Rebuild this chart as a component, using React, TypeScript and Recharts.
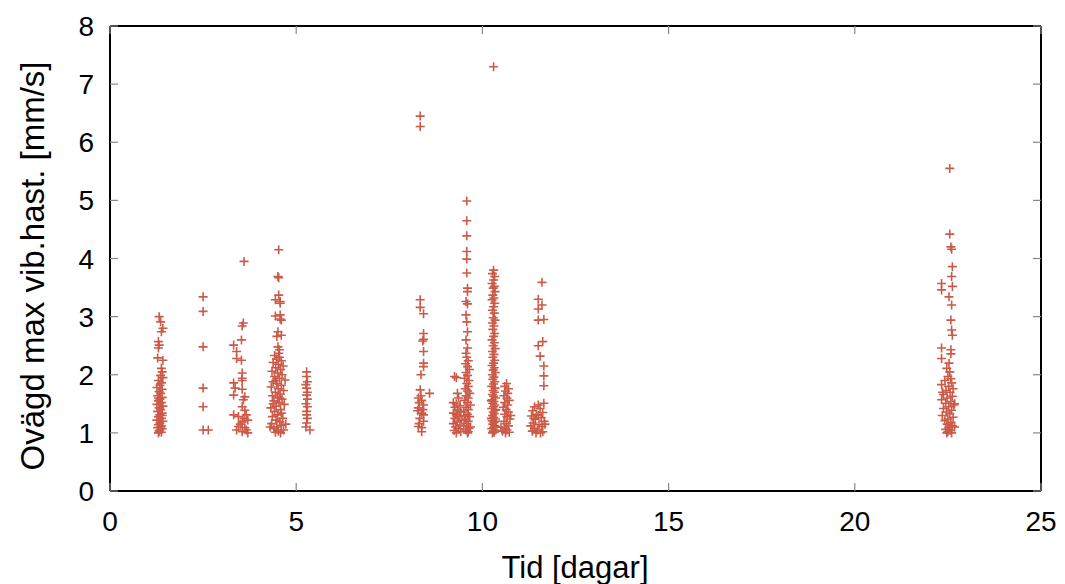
import { Label, Scatter, ScatterChart, XAxis, YAxis } from "recharts"

// [tid, hastighet] per cluster of measurements
const clusterA: [number, number][] = [
  [1.32, 3.0], [1.36, 2.91], [1.42, 2.8], [1.38, 2.74], [1.3, 2.57], [1.32, 2.51], [1.3, 2.46],
  [1.28, 2.29], [1.42, 2.25], [1.38, 2.11], [1.4, 2.05], [1.36, 1.99], [1.42, 1.95], [1.3, 1.9],
  [1.38, 1.86], [1.34, 1.82], [1.26, 1.78], [1.4, 1.75], [1.32, 1.71], [1.36, 1.68], [1.28, 1.64],
  [1.4, 1.61], [1.34, 1.58], [1.3, 1.55], [1.38, 1.52], [1.26, 1.49], [1.42, 1.46], [1.32, 1.43],
  [1.36, 1.4], [1.28, 1.37], [1.4, 1.34], [1.34, 1.31], [1.3, 1.28], [1.38, 1.25], [1.26, 1.22],
  [1.42, 1.2], [1.34, 1.17], [1.3, 1.14], [1.38, 1.12], [1.28, 1.09], [1.4, 1.07], [1.34, 1.05],
  [1.32, 1.03], [1.38, 1.01], [1.3, 1.0], [1.36, 1.1], [1.3, 1.6], [1.4, 1.3],
]

const clusterB: [number, number][] = [
  [2.5, 3.34], [2.5, 3.09], [2.5, 2.48], [2.5, 1.77], [2.5, 1.45], [2.5, 1.05], [2.64, 1.05],
]

const clusterC: [number, number][] = [
  [3.6, 3.95], [3.58, 2.89], [3.55, 2.84], [3.53, 2.6], [3.32, 2.51], [3.4, 2.4], [3.4, 2.28],
  [3.53, 2.25], [3.55, 2.03], [3.55, 1.94], [3.32, 1.86], [3.55, 1.9], [3.36, 1.77], [3.55, 1.75],
  [3.32, 1.65], [3.62, 1.62], [3.58, 1.57], [3.55, 1.45], [3.62, 1.39], [3.32, 1.31], [3.45, 1.28],
  [3.66, 1.31], [3.7, 1.22], [3.55, 1.19], [3.45, 1.11], [3.62, 1.09], [3.55, 1.02], [3.7, 1.0],
  [3.66, 1.05], [3.5, 1.15], [3.6, 1.25], [3.4, 1.05],
]

const clusterD: [number, number][] = [
  [4.53, 4.15], [4.51, 3.69], [4.53, 3.67], [4.53, 3.37], [4.44, 3.29], [4.57, 3.26], [4.44, 3.01],
  [4.57, 2.96], [4.51, 2.74], [4.48, 2.66], [4.51, 2.48], [4.57, 3.23], [4.57, 3.03], [4.6, 2.94],
  [4.6, 2.68], [4.55, 2.43], [4.53, 2.37],
  [4.42, 2.33], [4.55, 2.3], [4.47, 2.27], [4.6, 2.24], [4.38, 2.21], [4.52, 2.18], [4.65, 2.15],
  [4.45, 2.12], [4.58, 2.09], [4.35, 2.06], [4.5, 2.03], [4.62, 2.0], [4.42, 1.97], [4.55, 1.94],
  [4.7, 1.91], [4.38, 1.88], [4.48, 1.85], [4.6, 1.82], [4.33, 1.79], [4.52, 1.76], [4.66, 1.73],
  [4.44, 1.7], [4.57, 1.67], [4.36, 1.64], [4.5, 1.61], [4.62, 1.58], [4.4, 1.55], [4.54, 1.52],
  [4.68, 1.49], [4.46, 1.46], [4.32, 1.43], [4.58, 1.4], [4.42, 1.37], [4.6, 1.34], [4.5, 1.31],
  [4.36, 1.28], [4.64, 1.25], [4.46, 1.22], [4.56, 1.19], [4.34, 1.16], [4.6, 1.13], [4.48, 1.1],
  [4.4, 1.07], [4.66, 1.05], [4.52, 1.03], [4.44, 1.01], [4.58, 1.0], [4.3, 1.1], [4.72, 1.15],
  [4.38, 1.5], [4.55, 1.6], [4.45, 1.9],
]

const clusterE: [number, number][] = [
  [5.28, 2.05], [5.28, 1.97], [5.3, 1.88], [5.26, 1.83], [5.28, 1.77], [5.3, 1.7], [5.28, 1.65],
  [5.26, 1.5], [5.3, 1.45], [5.28, 1.37], [5.28, 1.31], [5.3, 1.25], [5.28, 1.17], [5.37, 1.05],
  [5.3, 1.58], [5.26, 1.1],
]

const clusterF: [number, number][] = [
  [8.33, 6.45], [8.33, 6.27], [8.33, 3.29], [8.33, 3.16], [8.42, 3.05], [8.42, 2.71], [8.42, 2.61],
  [8.4, 2.58], [8.42, 2.4], [8.42, 2.2], [8.42, 2.14], [8.35, 2.0], [8.58, 1.68], [8.33, 1.74],
  [8.28, 1.6], [8.37, 1.56], [8.42, 1.48], [8.28, 1.43], [8.37, 1.34], [8.42, 1.31], [8.28, 1.11],
  [8.37, 1.09], [8.37, 1.02], [8.3, 1.52], [8.4, 1.4], [8.32, 1.25], [8.42, 1.2], [8.3, 1.16],
  [8.26, 1.38], [8.35, 1.64],
]

const clusterG: [number, number][] = [
  [9.58, 4.99], [9.58, 4.65], [9.58, 4.39], [9.58, 4.12], [9.58, 3.99], [9.58, 3.75], [9.6, 3.49],
  [9.6, 3.43], [9.56, 3.26], [9.6, 3.22], [9.56, 3.03], [9.58, 2.91], [9.6, 2.74], [9.56, 2.6],
  [9.6, 2.46], [9.56, 2.37],
  [9.58, 2.3], [9.62, 2.24], [9.55, 2.19], [9.6, 2.14], [9.65, 2.09], [9.56, 2.04], [9.6, 1.99],
  [9.52, 1.94], [9.64, 1.9], [9.58, 1.85], [9.62, 1.8], [9.54, 1.76], [9.6, 1.72], [9.66, 1.68],
  [9.56, 1.64], [9.62, 1.6], [9.52, 1.56], [9.6, 1.52], [9.68, 1.48], [9.56, 1.44], [9.62, 1.4],
  [9.5, 1.36], [9.6, 1.32], [9.66, 1.28], [9.54, 1.24], [9.62, 1.2], [9.58, 1.16], [9.5, 1.12],
  [9.64, 1.08], [9.56, 1.05], [9.62, 1.02], [9.6, 1.0], [9.68, 1.1], [9.52, 1.3],
  [9.25, 1.97], [9.3, 1.95], [9.33, 1.68], [9.36, 1.6], [9.22, 1.52], [9.3, 1.5], [9.4, 1.47],
  [9.26, 1.44], [9.34, 1.4], [9.42, 1.37], [9.22, 1.34], [9.3, 1.31], [9.38, 1.28], [9.26, 1.25],
  [9.44, 1.22], [9.32, 1.19], [9.22, 1.16], [9.4, 1.13], [9.28, 1.1], [9.36, 1.07], [9.24, 1.04],
  [9.42, 1.02], [9.3, 1.0],
]

const clusterH: [number, number][] = [
  [10.3, 7.3],
  [10.3, 3.8], [10.27, 3.74], [10.33, 3.69], [10.3, 3.63], [10.26, 3.57], [10.32, 3.52], [10.29, 3.49],
  [10.34, 3.43], [10.28, 3.37], [10.31, 3.32], [10.26, 3.29], [10.33, 3.23], [10.3, 3.17], [10.27, 3.11],
  [10.32, 3.06], [10.29, 2.98], [10.34, 2.94], [10.27, 2.89], [10.31, 2.84], [10.28, 2.78], [10.33, 2.71],
  [10.3, 2.66], [10.26, 2.6], [10.32, 2.55], [10.29, 2.5], [10.34, 2.45], [10.27, 2.4], [10.31, 2.35],
  [10.28, 2.3], [10.33, 2.25], [10.3, 2.2], [10.26, 2.16], [10.32, 2.12], [10.29, 2.08], [10.35, 2.04],
  [10.27, 2.0], [10.31, 1.96], [10.28, 1.92], [10.33, 1.88], [10.3, 1.84], [10.25, 1.8], [10.34, 1.77],
  [10.29, 1.73], [10.32, 1.7], [10.27, 1.66], [10.3, 1.63], [10.35, 1.6], [10.26, 1.57], [10.31, 1.54],
  [10.28, 1.51], [10.33, 1.48], [10.3, 1.45], [10.25, 1.42], [10.34, 1.39], [10.29, 1.36], [10.32, 1.33],
  [10.27, 1.3], [10.3, 1.27], [10.35, 1.24], [10.26, 1.21], [10.31, 1.18], [10.28, 1.15], [10.33, 1.12],
  [10.3, 1.09], [10.25, 1.07], [10.34, 1.05], [10.29, 1.03], [10.32, 1.01], [10.27, 1.0], [10.36, 1.1],
  [10.24, 1.25], [10.36, 1.4], [10.24, 1.55], [10.36, 1.2],
]

const clusterI: [number, number][] = [
  [10.65, 1.85], [10.6, 1.8], [10.7, 1.76], [10.62, 1.72], [10.68, 1.68], [10.58, 1.64], [10.66, 1.6],
  [10.72, 1.56], [10.6, 1.52], [10.68, 1.48], [10.56, 1.44], [10.64, 1.4], [10.7, 1.36], [10.6, 1.32],
  [10.66, 1.28], [10.74, 1.24], [10.58, 1.2], [10.64, 1.16], [10.7, 1.12], [10.6, 1.08], [10.66, 1.05],
  [10.54, 1.03], [10.72, 1.01], [10.62, 1.0], [10.5, 1.1], [10.76, 1.3],
]

const clusterJ: [number, number][] = [
  [11.6, 3.59], [11.5, 3.3], [11.6, 3.2], [11.5, 3.13], [11.5, 2.94], [11.65, 2.95], [11.62, 2.57],
  [11.5, 2.5], [11.55, 2.32], [11.65, 2.15], [11.65, 1.98], [11.65, 1.81], [11.65, 1.51], [11.5, 1.48],
  [11.4, 1.45], [11.55, 1.42], [11.35, 1.38], [11.62, 1.35], [11.45, 1.32], [11.32, 1.29], [11.58, 1.26],
  [11.42, 1.23], [11.66, 1.2], [11.36, 1.17], [11.52, 1.14], [11.6, 1.11], [11.4, 1.08], [11.48, 1.05],
  [11.34, 1.03], [11.62, 1.02], [11.44, 1.0], [11.56, 1.0], [11.3, 1.12], [11.68, 1.15], [11.5, 1.3],
  [11.38, 1.25],
]

const clusterK: [number, number][] = [
  [22.55, 5.55], [22.55, 4.42], [22.58, 4.2], [22.6, 4.16], [22.62, 3.86], [22.6, 3.69], [22.33, 3.57],
  [22.33, 3.46], [22.62, 3.52], [22.53, 3.34], [22.6, 3.2], [22.58, 2.94], [22.6, 2.77], [22.62, 2.68],
  [22.33, 2.46], [22.58, 2.43], [22.58, 2.36], [22.33, 2.28], [22.53, 2.2], [22.47, 2.11], [22.55, 2.05],
  [22.5, 1.97], [22.58, 1.93], [22.42, 1.9], [22.6, 1.86], [22.33, 1.83], [22.52, 1.8], [22.64, 1.76],
  [22.45, 1.73], [22.56, 1.7], [22.38, 1.66], [22.62, 1.63], [22.48, 1.6], [22.33, 1.57], [22.58, 1.54],
  [22.44, 1.51], [22.66, 1.48], [22.52, 1.45], [22.38, 1.42], [22.6, 1.39], [22.46, 1.36], [22.55, 1.33],
  [22.35, 1.3], [22.64, 1.27], [22.5, 1.24], [22.42, 1.21], [22.58, 1.18], [22.48, 1.15], [22.62, 1.12],
  [22.52, 1.09], [22.44, 1.06], [22.56, 1.04], [22.5, 1.02], [22.6, 1.0], [22.47, 1.0], [22.68, 1.1],
  [22.36, 1.7], [22.68, 1.5],
]

const xTicks = [0, 5, 10, 15, 20, 25]
const yTicks = [0, 1, 2, 3, 4, 5, 6, 7, 8]

const COLOR = "#cc5a48"
const FONT = "'Liberation Sans', Arial, sans-serif"
const TICK_FONT = 28
const LABEL_FONT = 31
const YLABEL_FONT = 33
const TICK_LEN = 8

const data = [
  ...clusterA, ...clusterB, ...clusterC, ...clusterD, ...clusterE, ...clusterF,
  ...clusterG, ...clusterH, ...clusterI, ...clusterJ, ...clusterK,
].map(([x, y]) => ({ x, y }))

function Plus(props: any) {
  const { cx, cy } = props
  if (cx == null || cy == null) return null
  return (
    <path
      d={`M${cx - 4.5},${cy}h9M${cx},${cy - 4.5}v9`}
      stroke={COLOR}
      strokeWidth={1.6}
      fill="none"
    />
  )
}

// gnuplot style: tick marks point into the plot, labels sit outside
function makeTick(side: "bottom" | "left" | "top" | "right") {
  return (props: any) => {
    const { x, y, payload } = props
    const tick = { stroke: "#888", strokeWidth: 1.2 }
    if (side === "bottom")
      return (
        <g>
          <line x1={x} y1={y} x2={x} y2={y - TICK_LEN} {...tick} />
          <text x={x} y={y + 40} textAnchor="middle" fontSize={TICK_FONT} fontFamily={FONT} fill="#000">
            {payload.value}
          </text>
        </g>
      )
    if (side === "left")
      return (
        <g>
          <line x1={x} y1={y} x2={x + TICK_LEN} y2={y} {...tick} />
          <text x={x - 16} y={y + 10} textAnchor="end" fontSize={TICK_FONT} fontFamily={FONT} fill="#000">
            {payload.value}
          </text>
        </g>
      )
    if (side === "top") return <line x1={x} y1={y} x2={x} y2={y + TICK_LEN} {...tick} />
    return <line x1={x} y1={y} x2={x - TICK_LEN} y2={y} {...tick} />
  }
}

const frame = { stroke: "#000", strokeWidth: 2 }
const noHit = () => null

export default function App() {
  return (
    <div style={{ position: "absolute", left: 0, top: 0, background: "#fff" }}>
      <ScatterChart
        width={1065}
        height={584}
        margin={{ top: 25, right: 23, bottom: 33, left: 50 }}
      >
        <XAxis
          xAxisId="b"
          type="number"
          dataKey="x"
          domain={[0, 25]}
          ticks={xTicks}
          allowDataOverflow
          height={60}
          axisLine={frame}
          tickLine={false}
          tickSize={0}
          tickMargin={0}
          tick={makeTick("bottom")}
        >
          <Label
            content={() => (
              <text x={575} y={578} textAnchor="middle" fontSize={LABEL_FONT} fontFamily={FONT} fill="#000">
                Tid [dagar]
              </text>
            )}
          />
        </XAxis>
        <XAxis
          xAxisId="t"
          orientation="top"
          type="number"
          dataKey="x"
          domain={[0, 25]}
          ticks={xTicks}
          allowDataOverflow
          height={1}
          axisLine={frame}
          tickLine={false}
          tickSize={0}
          tickMargin={0}
          tick={makeTick("top")}
        />
        <YAxis
          yAxisId="l"
          type="number"
          dataKey="y"
          domain={[0, 8]}
          ticks={yTicks}
          allowDataOverflow
          width={60}
          axisLine={frame}
          tickLine={false}
          tickSize={0}
          tickMargin={0}
          tick={makeTick("left")}
        >
          <Label
            content={() => (
              <text
                x={44}
                y={266}
                transform="rotate(-90 44 266)"
                textAnchor="middle"
                fontSize={YLABEL_FONT}
                fontFamily={FONT}
                fill="#000"
              >
                Ovägd max vib.hast. [mm/s]
              </text>
            )}
          />
        </YAxis>
        <YAxis
          yAxisId="r"
          orientation="right"
          type="number"
          dataKey="y"
          domain={[0, 8]}
          ticks={yTicks}
          allowDataOverflow
          width={1}
          axisLine={frame}
          tickLine={false}
          tickSize={0}
          tickMargin={0}
          tick={makeTick("right")}
        />
        {/* invisible copy so the mirrored top/right axes get drawn */}
        <Scatter xAxisId="t" yAxisId="r" data={data} shape={noHit} isAnimationActive={false} />
        <Scatter
          xAxisId="b"
          yAxisId="l"
          data={data}
          shape={Plus}
          isAnimationActive={false}
        />
      </ScatterChart>
    </div>
  )
}
